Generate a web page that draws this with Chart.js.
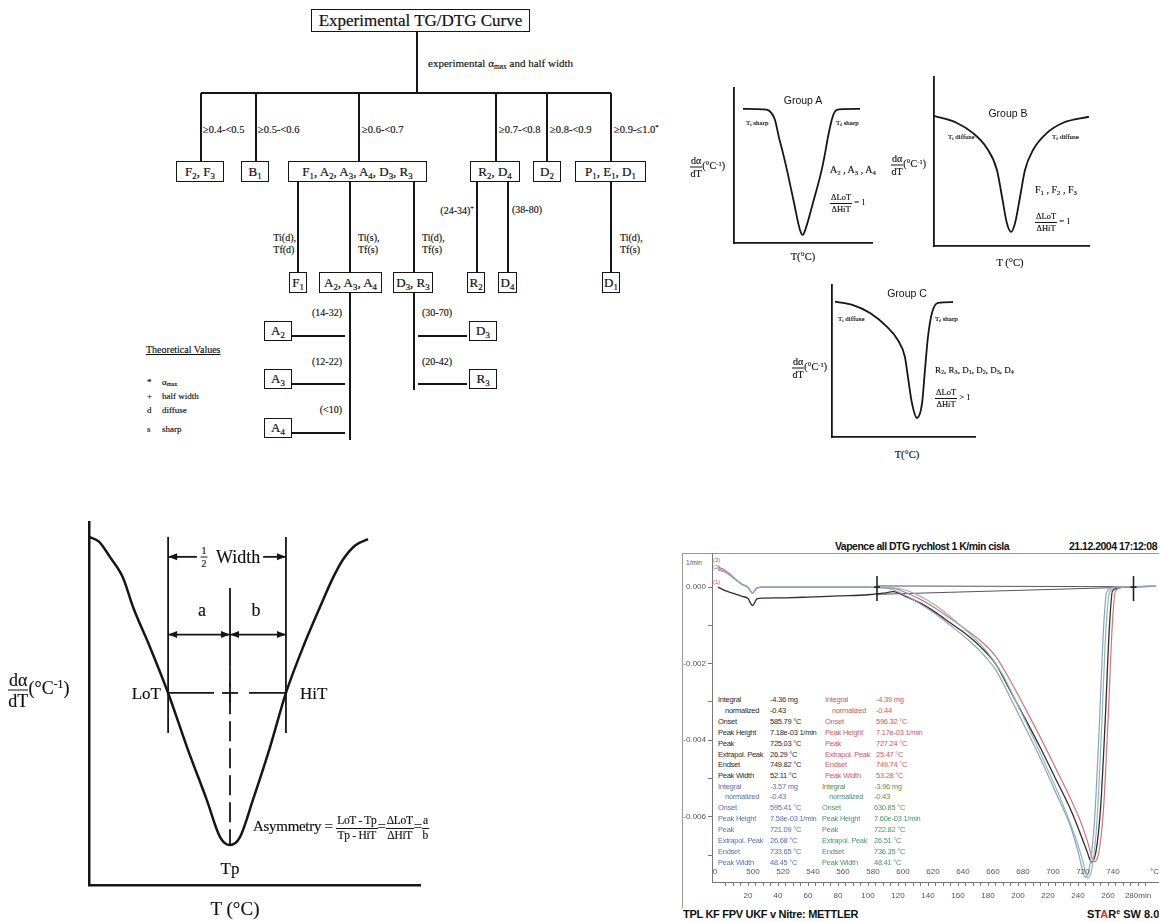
<!DOCTYPE html>
<html>
<head>
<meta charset="utf-8">
<script src="https://cdn.jsdelivr.net/npm/chart.js@4.4.1/dist/chart.umd.min.js"></script>
<style>
html, body { margin: 0; padding: 0; background: #fff; }
#page { position: relative; width: 1159px; height: 922px; overflow: hidden; background: #fff; }
.t { position: absolute; white-space: nowrap; line-height: 1; color: #111; }
.serif { font-family: "Liberation Serif", "DejaVu Serif", serif; -webkit-text-stroke: 0.15px #111; }
.sans { font-family: "Liberation Sans", Arial, sans-serif; }
.box { position: absolute; border: 1.3px solid #161616; box-sizing: border-box; display: flex; align-items: center; justify-content: center;
       font-family: "Liberation Serif", serif; white-space: nowrap; background: #fff; color: #111; -webkit-text-stroke: 0.2px #111; }
.ln { position: absolute; background: #161616; }
.frac { display: inline-flex; flex-direction: column; align-items: center; vertical-align: middle; line-height: 1; }
.frac > span:first-child { border-bottom: 1px solid #161616; padding: 0 1px 1px; }
.frac > span:last-child { padding-top: 1px; }
sub { font-size: 68%; vertical-align: -0.3em; line-height: 0; }
sup { font-size: 65%; vertical-align: 0.55em; line-height: 0; }
canvas { position: absolute; }
</style>
</head>
<body>
<div id="page"></div>
<script>
// ---- schematic curves (arbitrary units, 0..100 on both axes) ----
const groupAX = [6.5, 16, 23.7, 27, 29.7, 32.6, 35.5, 38.4, 43.5, 47.8, 49.8, 51.6, 57.2, 63.5, 66, 68, 71.5, 74.4, 79, 91.3];
const groupAY = [86.5, 86.4, 86, 84, 79.4, 68, 58, 47, 25.8, 8.4, 5.2, 8.4, 25.8, 47, 58, 68, 81.5, 85.8, 86.4, 86.5];

const groupBX = [0, 14.8, 25, 34, 40.6, 43.9, 47, 49.7, 52.3, 55.5, 58.7, 63.9, 72.9, 83, 100];
const groupBY = [77, 72.8, 66.9, 58, 45, 29, 13.6, 8.3, 13.6, 29, 45, 56.8, 66.9, 72.8, 76.5];

const groupCX = [2.1, 14.7, 26.6, 38.5, 46, 51, 53.1, 55.9, 59.4, 63, 65, 67.1, 69.9, 74.1, 84.6];
const groupCY = [89, 86.8, 81.6, 72.4, 63.8, 52.6, 39.5, 22.4, 12.5, 22.4, 44, 65.8, 81.6, 88.2, 88.8];

const asymX = [0, 3, 6.3, 10.3, 13.3, 18.4, 23.9, 29.6, 35.6, 39.6, 42.6, 45.6, 49.5, 54.7, 59.5, 64.7, 69.8, 73.7, 76.7, 80.5, 84.3];
const asymY = [95.9, 94.6, 90.4, 84.6, 76.6, 65.6, 52.9, 38, 23.4, 13.2, 11, 13.2, 23.4, 38, 52.9, 65.6, 76.6, 84.6, 89.6, 93.6, 95.3];

// asymmetry construction (same units as the curve)
const loT = 23.9, hiT = 59.5, tP = 42.6, halfLevel = 52.9, tpLevel = 11;
const guideTop = 95.9, guideBottom = 41.9, widthArrowY = 90.4, abArrowY = 69, centerTop = 81.8;
const widthGap = [32.6, 52.6];

// ---- DTG measurement (time in min, DTG in 1/min) ----
const timeBlack = [0, 4, 8, 12, 16, 20, 23, 26, 30, 45, 60, 80, 100, 110, 117, 125, 135, 145, 155, 165, 175, 185, 195, 205, 215, 225, 235, 241, 246, 249, 252, 255, 258, 261, 263, 270, 280, 292];
const dtgBlack = [0.00000, -0.00008, -0.00014, -0.00019, -0.00024, -0.00030, -0.00048, -0.00031, -0.00029, -0.00028, -0.00026, -0.00023, -0.00020, -0.00016, -0.00012, -0.00024, -0.00042, -0.00066, -0.00094, -0.00122, -0.00156, -0.00200, -0.00272, -0.00345, -0.00420, -0.00500, -0.00580, -0.00638, -0.00690, -0.00718, -0.00690, -0.00580, -0.00360, -0.00100, -0.00010, 0.00000, 0.00001, 0.00002];

const timeRed = [0, 4, 8, 12, 16, 20, 23, 26, 30, 60, 100, 118, 125, 135, 145, 155, 165, 175, 185, 195, 205, 215, 225, 235, 241, 246, 251, 254, 257, 260, 263, 265, 272, 280, 292];
const dtgRed = [0.00052, 0.00046, 0.00034, 0.00020, 0.00008, 0.00000, -0.00015, -0.00002, 0.00000, 0.00000, 0.00000, -0.00004, -0.00014, -0.00032, -0.00055, -0.00082, -0.00110, -0.00140, -0.00180, -0.00245, -0.00318, -0.00393, -0.00472, -0.00552, -0.00605, -0.00660, -0.00717, -0.00690, -0.00580, -0.00350, -0.00090, -0.00010, 0.00000, 0.00001, 0.00002];

const timeBlue = [0, 4, 8, 12, 16, 20, 23, 26, 30, 60, 100, 115, 125, 135, 145, 155, 165, 175, 185, 195, 205, 215, 225, 235, 240, 245, 248, 251, 254, 257, 259, 265, 280, 292];
const dtgBlue = [0.00045, 0.00040, 0.00030, 0.00018, 0.00007, -0.00001, -0.00016, -0.00003, 0.00000, 0.00000, 0.00000, -0.00005, -0.00022, -0.00044, -0.00070, -0.00100, -0.00132, -0.00168, -0.00215, -0.00290, -0.00368, -0.00448, -0.00535, -0.00625, -0.00690, -0.00758, -0.00725, -0.00610, -0.00380, -0.00110, -0.00015, 0.00000, 0.00001, 0.00002];

const timeGreen = [0, 4, 8, 12, 16, 20, 23, 26, 30, 60, 100, 120, 130, 140, 150, 160, 170, 180, 190, 200, 210, 220, 230, 238, 243, 246.5, 249.5, 252.5, 255.5, 258.5, 261, 266, 280, 292];
const dtgGreen = [0.00048, 0.00042, 0.00032, 0.00019, 0.00007, -0.00001, -0.00015, -0.00002, 0.00000, 0.00000, 0.00000, -0.00003, -0.00015, -0.00035, -0.00062, -0.00095, -0.00130, -0.00172, -0.00230, -0.00310, -0.00392, -0.00478, -0.00568, -0.00650, -0.00712, -0.00760, -0.00730, -0.00620, -0.00390, -0.00120, -0.00015, 0.00000, 0.00001, 0.00002];

const baseTime = [106, 277];
const baseUpper = [0.00003, 0.00001];
const baseLower = [-0.00019, 0.00000];
const intLimits = [106, 277];

const tempLabels = [500, 520, 540, 560, 580, 600, 620, 640, 660, 680, 700, 720, 740];
const tempAtZero = 476.7;   // furnace temperature at t = 0 min

const statNames = ['Integral', 'normalized', 'Onset', 'Peak Height', 'Peak', 'Extrapol. Peak', 'Endset', 'Peak Width'];
const statsBlack = ['-4.36 mg', '-0.43', '585.79 °C', '7.18e-03 1/min', '725.03 °C', '26.29 °C', '749.82 °C', '52.11 °C'];
const statsRed = ['-4.39 mg', '-0.44', '596.32 °C', '7.17e-03 1/min', '727.24 °C', '25.47 °C', '749.74 °C', '53.28 °C'];
const statsBlue = ['-3.57 mg', '-0.43', '595.41 °C', '7.58e-03 1/min', '721.09 °C', '26.68 °C', '733.65 °C', '48.45 °C'];
const statsGreen = ['-3.96 mg', '-0.43', '630.85 °C', '7.60e-03 1/min', '722.82 °C', '26.51 °C', '736.35 °C', '48.41 °C'];

// ---------------------------------------------------------------
const page = document.getElementById('page');

function label(html, x, y, size, opts) {
    opts = opts || {};
    const d = document.createElement('div');
    d.className = 't ' + (opts.font || 'serif');
    d.style.left = x + 'px';
    d.style.top = y + 'px';
    d.style.fontSize = size + 'px';
    const tx = opts.align === 'c' ? '-50%' : opts.align === 'r' ? '-100%' : '0';
    d.style.transform = `translate(${tx},-50%)`;
    if (opts.style) Object.assign(d.style, opts.style);
    d.innerHTML = html;
    page.appendChild(d);
    return d;
}

function box(html, x1, y1, x2, y2, size) {
    const d = document.createElement('div');
    d.className = 'box';
    d.style.left = x1 + 'px';
    d.style.top = y1 + 'px';
    d.style.width = (x2 - x1) + 'px';
    d.style.height = (y2 - y1) + 'px';
    d.style.fontSize = (size || 13) + 'px';
    d.innerHTML = '<span>' + html + '</span>';
    page.appendChild(d);
}

function hline(x1, x2, y, w) {
    w = w || 1.4;
    const d = document.createElement('div');
    d.className = 'ln';
    Object.assign(d.style, { left: x1 + 'px', top: (y - w / 2) + 'px', width: (x2 - x1) + 'px', height: w + 'px' });
    page.appendChild(d);
}

function vline(x, y1, y2, w) {
    w = w || 1.4;
    const d = document.createElement('div');
    d.className = 'ln';
    Object.assign(d.style, { left: (x - w / 2) + 'px', top: y1 + 'px', width: w + 'px', height: (y2 - y1) + 'px' });
    page.appendChild(d);
}

const frac = (a, b) => `<span class="frac"><span>${a}</span><span>${b}</span></span>`;
const dadt = () => frac('dα', 'dT') + '(°C<sup>-1</sup>)';

// ---- flow chart ----
box('Experimental TG/DTG Curve', 311, 9, 530, 32, 17);
vline(417, 32, 93);
label('experimental α<sub>max</sub> and half width', 428, 63, 11);
hline(201, 611, 93);
[201, 256, 359, 496, 547, 611].forEach(x => vline(x, 93, 162));
[['≥0.4-&lt;0.5', 203], ['≥0.5-&lt;0.6', 258], ['≥0.6-&lt;0.7', 362], ['≥0.7-&lt;0.8', 499],
 ['≥0.8-&lt;0.9', 550], ['≥0.9-≤1.0<sup>*</sup>', 614]].forEach(([s, x]) => label(s, x, 130, 10.5));

box('F<sub>2</sub>, F<sub>3</sub>', 176, 161, 224, 182);
box('B<sub>1</sub>', 241, 161, 269, 182);
box('F<sub>1</sub>, A<sub>2</sub>, A<sub>3</sub>, A<sub>4</sub>, D<sub>3</sub>, R<sub>3</sub>', 288, 161, 427, 182);
box('R<sub>2</sub>, D<sub>4</sub>', 470, 161, 520, 182);
box('D<sub>2</sub>', 533, 161, 561, 182);
box('P<sub>1</sub>, E<sub>1</sub>, D<sub>1</sub>', 575, 161, 646, 182);

[298, 350, 414, 477, 508, 611].forEach(x => vline(x, 182, 272));
label('Ti(d),<br>Tf(d)', 296, 243, 10, { align: 'r', style: { lineHeight: '1.15' } });
label('Ti(s),<br>Tf(s)', 358, 243, 10, { style: { lineHeight: '1.15' } });
label('Ti(d),<br>Tf(s)', 422, 243, 10, { style: { lineHeight: '1.15' } });
label('(24-34)<sup>+</sup>', 474, 211, 10, { align: 'r' });
label('(38-80)', 512, 210, 10);
label('Ti(d),<br>Tf(s)', 620, 243, 10, { style: { lineHeight: '1.15' } });

box('F<sub>1</sub>', 289, 272, 307, 293);
box('A<sub>2</sub>, A<sub>3</sub>, A<sub>4</sub>', 319, 272, 382, 293);
box('D<sub>3</sub>, R<sub>3</sub>', 393, 272, 433, 293);
box('R<sub>2</sub>', 467, 272, 485, 293);
box('D<sub>4</sub>', 498, 272, 517, 293);
box('D<sub>1</sub>', 602, 272, 620, 293);

vline(350, 293, 440);
vline(414, 293, 390);
label('(14-32)', 342, 313, 10, { align: 'r' });
label('(12-22)', 342, 362, 10, { align: 'r' });
label('(&lt;10)', 342, 410, 10, { align: 'r' });
box('A<sub>2</sub>', 264, 321, 292, 341);
box('A<sub>3</sub>', 264, 369, 292, 389);
box('A<sub>4</sub>', 264, 418, 292, 438);
hline(292, 345, 336); hline(292, 345, 384); hline(292, 345, 433);
label('(30-70)', 422, 313, 10);
label('(20-42)', 422, 362, 10);
hline(418, 467, 336); hline(418, 467, 384);
box('D<sub>3</sub>', 469, 321, 497, 341);
box('R<sub>3</sub>', 469, 369, 497, 389);

label('Theoretical Values', 146, 350, 10, { style: { textDecoration: 'underline' } });
[['*', 'α<sub>max</sub>', 382], ['+', 'half width', 396], ['d', 'diffuse', 410], ['s', 'sharp', 429]].forEach(([m, s, y]) => {
    label(m, 147, y, 9);
    label(s, 162, y, 9);
});

// ---- schematic curve charts ----
function makeCurve(area, xs, ys, lineW, extraPlugins) {
    const pad = 4;
    const c = document.createElement('canvas');
    c.width = area.w + 2 * pad;
    c.height = area.h + 2 * pad;
    c.style.left = (area.x - pad) + 'px';
    c.style.top = (area.y - pad) + 'px';
    page.appendChild(c);
    const axis = (fit) => ({
        type: 'linear', min: 0, max: 100,
        ticks: { display: false },
        grid: { display: false, drawTicks: false },
        border: { display: true, color: '#161616', width: lineW },
        afterFit: fit
    });
    return new Chart(c, {
        type: 'line',
        data: {
            datasets: [{
                data: xs.map((x, i) => ({ x: x, y: ys[i] })),
                borderColor: '#161616',
                borderWidth: lineW,
                pointRadius: 0,
                cubicInterpolationMode: 'monotone',
                fill: false
            }]
        },
        options: {
            responsive: false,
            animation: false,
            devicePixelRatio: 1,
            layout: { padding: pad },
            plugins: { legend: { display: false }, tooltip: { enabled: false } },
            scales: {
                x: axis(s => { s.height = 0; }),
                y: axis(s => { s.width = 0; })
            }
        },
        plugins: extraPlugins || []
    });
}

makeCurve({ x: 734, y: 88, w: 138, h: 155 }, groupAX, groupAY, 1.8);
makeCurve({ x: 934, y: 77, w: 155, h: 169 }, groupBX, groupBY, 1.8);
makeCurve({ x: 832, y: 285, w: 143, h: 152 }, groupCX, groupCY, 1.8);

// Group A labels
label('Group A', 803, 100, 10.5, { font: 'sans', align: 'c' });
label('T<sub>i</sub> sharp', 746, 123, 7);
label('T<sub>f</sub> sharp', 836, 123, 7);
label(dadt(), 690, 167, 10);
label('A<sub>2</sub> , A<sub>3</sub> , A<sub>4</sub>', 830, 170, 10);
label(frac('ΔLoT', 'ΔHiT') + ' = 1', 830, 203, 8.5);
label('T(°C)', 803, 257, 10.5, { align: 'c' });

// Group B labels
label('Group B', 1008, 113, 10.5, { font: 'sans', align: 'c' });
label('T<sub>i</sub> diffuse', 948, 137, 7);
label('T<sub>f</sub> diffuse', 1052, 137, 7);
label(dadt(), 891, 165, 10);
label('F<sub>1</sub> , F<sub>2</sub> , F<sub>3</sub>', 1035, 190, 10);
label(frac('ΔLoT', 'ΔHiT') + ' = 1', 1035, 222, 8.5);
label('T (°C)', 1010, 263, 10.5, { align: 'c' });

// Group C labels
label('Group C', 907, 293, 10.5, { font: 'sans', align: 'c' });
label('T<sub>i</sub> diffuse', 838, 319, 7);
label('T<sub>f</sub> sharp', 935, 319, 7);
label(dadt(), 792, 368, 10);
label('R<sub>2</sub>, R<sub>3</sub>, D<sub>1</sub>, D<sub>2</sub>, D<sub>3</sub>, D<sub>4</sub>', 935, 370, 9);
label(frac('ΔLoT', 'ΔHiT') + ' &gt; 1', 935, 398, 8.5);
label('T(°C)', 907, 455, 10.5, { align: 'c' });

// ---- asymmetry construction ----
const asymGuides = {
    id: 'asymGuides',
    afterDatasetsDraw(chart) {
        const { ctx, scales } = chart;
        const X = v => scales.x.getPixelForValue(v);
        const Y = v => scales.y.getPixelForValue(v);
        const seg = (x1, y1, x2, y2) => { ctx.beginPath(); ctx.moveTo(x1, y1); ctx.lineTo(x2, y2); ctx.stroke(); };
        const head = (x, y, dir) => {
            ctx.beginPath();
            ctx.moveTo(x, y);
            ctx.lineTo(x - dir * 9, y - 3.5);
            ctx.lineTo(x - dir * 9, y + 3.5);
            ctx.closePath();
            ctx.fill();
        };
        ctx.save();
        ctx.strokeStyle = '#161616';
        ctx.fillStyle = '#161616';
        ctx.lineWidth = 1.8;

        seg(X(loT), Y(guideTop), X(loT), Y(guideBottom));
        seg(X(hiT), Y(guideTop), X(hiT), Y(guideBottom));

        // half width arrow
        const wy = Y(widthArrowY);
        seg(X(loT), wy, X(widthGap[0]), wy);
        seg(X(widthGap[1]), wy, X(hiT), wy);
        head(X(loT), wy, -1);
        head(X(hiT), wy, 1);

        // a | b arrows
        const ay = Y(abArrowY);
        seg(X(loT), ay, X(hiT), ay);
        head(X(loT), ay, -1);
        head(X(tP), ay, 1);
        head(X(tP), ay, -1);
        head(X(hiT), ay, 1);

        // centre line
        seg(X(tP), Y(centerTop), X(tP), Y(60));
        ctx.setLineDash([20, 7]);
        seg(X(tP), Y(60), X(tP), Y(tpLevel));
        ctx.setLineDash([]);

        // LoT - HiT dashed level with cross at Tp
        const hy = Y(halfLevel), cx = X(tP);
        seg(X(loT), hy, cx - 16, hy);
        seg(cx - 8, hy, cx + 8, hy);
        seg(cx + 19, hy, X(hiT), hy);
        seg(cx, hy - 10, cx, hy + 10);
        ctx.restore();
    }
};
makeCurve({ x: 89, y: 522, w: 331, h: 363 }, asymX, asymY, 2.5, [asymGuides]);

label('<span class="frac" style="font-size:10px"><span>1</span><span>2</span></span>', 204, 557, 10, { align: 'c' });
label('Width', 216, 557, 18);
label('a', 202, 610, 18, { align: 'c' });
label('b', 256, 610, 18, { align: 'c' });
label('LoT', 161, 693, 17, { align: 'r' });
label('HiT', 300, 693, 17);
label('Tp', 230, 868, 17, { align: 'c' });
label('T (°C)', 235, 908, 19, { align: 'c' });
label('<span class="frac" style="font-size:18px"><span>dα</span><span>dT</span></span>(°C<sup>-1</sup>)', 8, 690, 18);
const asymLabel = label('Asymmetry = ' + frac('LoT - Tp', 'Tp - HiT') + '=' + frac('ΔLoT', 'ΔHiT') + '=' + frac('a', 'b'),
      253, 828, 15, { style: { letterSpacing: '-0.3px' } });
asymLabel.querySelectorAll('.frac').forEach(f => { f.style.fontSize = '11.5px'; });

// ---- DTG measurement chart ----
const frame = document.createElement('div');
Object.assign(frame.style, { position: 'absolute', left: '682px', top: '553px', width: '500px', height: '354px',
    borderLeft: '1px solid #999', borderTop: '1px solid #999' });
page.appendChild(frame);

label('Vapence all DTG rychlost 1 K/min cisla', 922, 546, 10.5, { font: 'sans', align: 'c', style: { fontWeight: 'bold', letterSpacing: '-0.5px' } });
label('21.12.2004 17:12:08', 1069, 546, 10.5, { font: 'sans', style: { fontWeight: 'bold', letterSpacing: '-0.5px' } });
label('1/min', 694, 563, 6.5, { font: 'sans', align: 'c', style: { color: '#555' } });
label('(3)', 713, 560, 6, { font: 'sans', style: { color: '#c0505a' } });
label('(2)', 713, 567, 6, { font: 'sans', style: { color: '#c0505a' } });
label('(1)', 713, 582, 6, { font: 'sans', style: { color: '#c0505a' } });
label('TPL KF FPV UKF v Nitre: METTLER', 683, 914, 11, { font: 'sans', style: { fontWeight: 'bold', letterSpacing: '-0.3px' } });
label('ST<span style="color:#d03030">A</span>R<sup>e</sup> SW 8.00', 1087, 914, 11, { font: 'sans', style: { fontWeight: 'bold' } });

function statBlock(values, color, xl, xv, y0) {
    statNames.forEach((n, i) => {
        const y = y0 + i * 10.9;
        const st = { color: color, letterSpacing: '-0.25px' };
        label(n, xl + (i === 1 ? 7 : 0), y, 7.5, { font: 'sans', style: st });
        label(values[i], xv, y, 7.5, { font: 'sans', style: st });
    });
}
statBlock(statsBlack, '#2a2a2a', 718, 770, 700);
statBlock(statsRed, '#cc5a64', 825, 876, 700);
statBlock(statsBlue, '#5c70b4', 718, 770, 786.5);
statBlock(statsGreen, '#4e9568', 822, 874, 786.5);

const dtgExtras = {
    id: 'dtgExtras',
    afterDraw(chart) {
        const { ctx, chartArea, scales } = chart;
        const x = scales.x, y = scales.y;
        ctx.save();
        ctx.font = '8px "Liberation Sans", Arial, sans-serif';
        ctx.fillStyle = '#555';
        ctx.textAlign = 'center';
        ctx.textBaseline = 'middle';
        const ty = chartArea.bottom - 10;
        ctx.fillText('0', x.getPixelForValue(-2), ty);
        tempLabels.forEach(T => ctx.fillText(String(T), x.getPixelForValue(T - tempAtZero), ty));
        ctx.fillText('°C', x.getPixelForValue(291), ty);

        ctx.strokeStyle = '#222';
        ctx.lineWidth = 1.6;
        intLimits.forEach(t => {
            const px = x.getPixelForValue(t), py = y.getPixelForValue(0);
            ctx.beginPath(); ctx.moveTo(px, py - 11); ctx.lineTo(px, py + 14); ctx.stroke();
            ctx.beginPath(); ctx.moveTo(px - 3, py); ctx.lineTo(px + 3, py); ctx.stroke();
        });
        ctx.restore();
    }
};

function dtgSeries(ts, vs, color, w) {
    return {
        data: ts.map((t, i) => ({ x: t, y: vs[i] })),
        borderColor: color,
        borderWidth: w || 1.2,
        pointRadius: 0,
        cubicInterpolationMode: 'monotone',
        fill: false
    };
}

const dtgCanvas = document.createElement('canvas');
dtgCanvas.width = 510;
dtgCanvas.height = 402;
dtgCanvas.style.left = '660px';
dtgCanvas.style.top = '520px';
page.appendChild(dtgCanvas);

const dtgFont = { family: '"Liberation Sans", Arial, sans-serif', size: 8 };
new Chart(dtgCanvas, {
    type: 'line',
    data: {
        datasets: [
            dtgSeries(timeBlue, dtgBlue, '#8ea0c6'),
            dtgSeries(timeGreen, dtgGreen, '#8cbcae'),
            dtgSeries(timeRed, dtgRed, '#d4737a'),
            dtgSeries(timeBlack, dtgBlack, '#2e2e2e', 1.3),
            Object.assign(dtgSeries(baseTime, baseUpper, '#555', 1), { cubicInterpolationMode: 'default', tension: 0 }),
            Object.assign(dtgSeries(baseTime, baseLower, '#555', 1), { cubicInterpolationMode: 'default', tension: 0 })
        ]
    },
    options: {
        responsive: false,
        animation: false,
        devicePixelRatio: 1,
        layout: { padding: { left: 0, top: 33, right: 11, bottom: 10 } },
        plugins: { legend: { display: false }, tooltip: { enabled: false } },
        scales: {
            x: {
                type: 'linear', min: -4, max: 294,
                afterBuildTicks(s) { s.ticks = s.ticks.filter(t => t.value % 5 === 0); },
                ticks: {
                    stepSize: 5, autoSkip: false, maxRotation: 0, padding: 5, color: '#555', font: dtgFont,
                    callback(v) {
                        if (v < 0 || v % 20 !== 0) return '';
                        return v === 280 ? '280min' : String(v);
                    }
                },
                grid: { drawOnChartArea: false, tickLength: 4, color: '#777' },
                border: { color: '#777', width: 1 },
                afterFit(s) { s.height = 30; }
            },
            y: {
                type: 'linear', min: -0.0077, max: 0.00089,
                afterBuildTicks(s) {
                    s.ticks = s.ticks.filter(t => Math.abs(t.value * 1000 - Math.round(t.value * 1000)) < 1e-6);
                },
                ticks: {
                    stepSize: 0.001, autoSkip: false, padding: 2, color: '#555', font: dtgFont,
                    callback(v) {
                        const k = Math.round(v * 1000);
                        return k % 2 === 0 ? (k === 0 ? '0.000' : (k / 1000).toFixed(3)) : '';
                    }
                },
                grid: { drawOnChartArea: false, tickLength: 4, color: '#777' },
                border: { color: '#777', width: 1 },
                afterFit(s) { s.width = 52; }
            }
        }
    },
    plugins: [dtgExtras]
});
</script>
</body>
</html>
